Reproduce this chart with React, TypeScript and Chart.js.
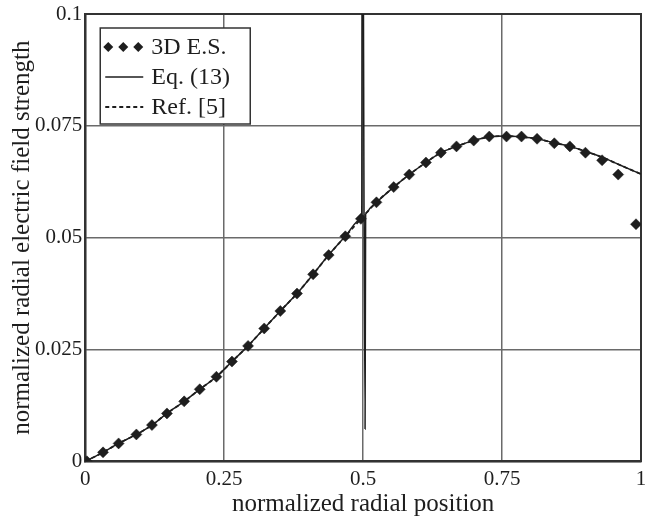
import React, { useEffect, useRef } from "react";
import { Chart, registerables } from "chart.js";

Chart.register(...registerables);

// axis ticks
const xTicks = [0, 0.25, 0.5, 0.75, 1];
const xTickLabels = ["0", "0.25", "0.5", "0.75", "1"];
const yTicks = [0, 0.025, 0.05, 0.075, 0.1];
const yTickLabels = ["0", "0.025", "0.05", "0.075", "0.1"];

// 3D E.S. (diamond markers)
const esX = [0.003, 0.032, 0.06, 0.092, 0.12, 0.147, 0.178, 0.206, 0.236, 0.264, 0.293, 0.322, 0.351, 0.381, 0.41, 0.438, 0.468, 0.496, 0.524, 0.555, 0.583, 0.613, 0.64, 0.668, 0.699, 0.727, 0.758, 0.785, 0.813, 0.844, 0.872, 0.9, 0.93, 0.959, 0.991];
const esY = [0, 0.002, 0.004, 0.006, 0.0081, 0.0107, 0.0134, 0.0161, 0.0189, 0.0223, 0.0258, 0.0297, 0.0336, 0.0375, 0.0418, 0.0461, 0.0503, 0.0542, 0.0579, 0.0613, 0.0641, 0.0668, 0.069, 0.0704, 0.0717, 0.0726, 0.0726, 0.0726, 0.0721, 0.0711, 0.0704, 0.069, 0.0673, 0.0641, 0.053];

// Eq. (13) (solid line, with singular spike at 0.5)
const eqX = [0, 0.032, 0.06, 0.092, 0.12, 0.147, 0.178, 0.206, 0.236, 0.264, 0.293, 0.322, 0.351, 0.381, 0.41, 0.438, 0.468, 0.496, 0.4975, 0.4985, 0.5035, 0.5045, 0.507, 0.512, 0.524, 0.555, 0.583, 0.613, 0.64, 0.668, 0.699, 0.727, 0.758, 0.785, 0.813, 0.844, 0.872, 0.9, 0.93, 0.959, 1.0];
const eqY = [0, 0.002, 0.004, 0.006, 0.0081, 0.0107, 0.0134, 0.0161, 0.0189, 0.0223, 0.0258, 0.0297, 0.0336, 0.0375, 0.0418, 0.0461, 0.0503, 0.0541, 0.0544, 0.16, 0.0072, 0.0552, 0.0557, 0.0565, 0.0579, 0.0613, 0.0641, 0.0668, 0.069, 0.0704, 0.0717, 0.0725, 0.0727, 0.0725, 0.0721, 0.0712, 0.0704, 0.0693, 0.068, 0.0664, 0.0642];

// Ref. [5] (dashed line)
const refX = [0, 0.032, 0.06, 0.092, 0.12, 0.147, 0.178, 0.206, 0.236, 0.264, 0.293, 0.322, 0.351, 0.381, 0.41, 0.438, 0.468, 0.496, 0.524, 0.555, 0.583, 0.613, 0.64, 0.668, 0.699, 0.727, 0.758, 0.785, 0.813, 0.844, 0.872, 0.9, 0.93, 0.959, 1.0];
const refY = [0, 0.002, 0.004, 0.006, 0.0081, 0.0107, 0.0134, 0.0161, 0.0189, 0.0223, 0.0258, 0.0297, 0.0336, 0.0375, 0.0418, 0.0461, 0.0503, 0.0542, 0.0579, 0.0613, 0.0641, 0.0668, 0.069, 0.0704, 0.0717, 0.0725, 0.0727, 0.0725, 0.0721, 0.0712, 0.0704, 0.0693, 0.068, 0.0664, 0.0642];

const seriesLabels = ["3D E.S.", "Eq. (13)", "Ref. [5]"];
const xTitle = "normalized radial position";
const yTitle = "normalized radial electric field strength";

const FONT = '"Liberation Serif", "Times New Roman", serif';
const INK = "#1e1e1e";

const zip = (xs: number[], ys: number[]) => xs.map((x, i) => ({ x, y: ys[i] }));

const framePlugin = {
  id: "frame",
  beforeDatasetsDraw(chart: any) {
    const { ctx, chartArea: a } = chart;
    ctx.save();
    ctx.strokeStyle = "#333";
    ctx.lineWidth = 2;
    ctx.strokeRect(a.left, a.top, a.right - a.left, a.bottom - a.top);
    ctx.restore();
  },
};

const legendPlugin = {
  id: "boxLegend",
  afterDatasetsDraw(chart: any) {
    const { ctx, chartArea: a } = chart;
    const x0 = a.left + 15;
    const y0 = a.top + 14;
    const w = 150;
    const h = 96;
    ctx.save();
    ctx.fillStyle = "#fff";
    ctx.fillRect(x0, y0, w, h);
    ctx.strokeStyle = "#333";
    ctx.lineWidth = 1.5;
    ctx.strokeRect(x0, y0, w, h);
    ctx.font = `24px ${FONT}`;
    ctx.textBaseline = "middle";
    ctx.textAlign = "left";
    chart.data.datasets.forEach((ds: any, i: number) => {
      const cy = y0 + 19 + i * 30;
      const sx = x0 + 5;
      const sw = 38;
      ctx.fillStyle = INK;
      ctx.strokeStyle = INK;
      if (ds.showLine === false) {
        for (let k = 0; k < 3; k++) {
          const cx = sx + 3 + k * 15;
          const r = 5;
          ctx.beginPath();
          ctx.moveTo(cx, cy - r);
          ctx.lineTo(cx + r, cy);
          ctx.lineTo(cx, cy + r);
          ctx.lineTo(cx - r, cy);
          ctx.closePath();
          ctx.fill();
        }
      } else {
        ctx.lineWidth = ds.borderWidth;
        ctx.setLineDash(ds.borderDash || []);
        ctx.beginPath();
        ctx.moveTo(sx, cy);
        ctx.lineTo(sx + sw, cy);
        ctx.stroke();
        ctx.setLineDash([]);
      }
      ctx.fillStyle = INK;
      ctx.fillText(ds.label, x0 + 51, cy + 1);
    });
    ctx.restore();
  },
};

export default function App() {
  const ref = useRef<HTMLCanvasElement | null>(null);

  useEffect(() => {
    if (!ref.current) return;
    const chart = new Chart(ref.current, {
      type: "scatter",
      data: {
        datasets: [
          {
            label: seriesLabels[0],
            data: zip(esX, esY),
            showLine: false,
            pointStyle: "rectRot",
            pointRadius: 5.5,
            pointBackgroundColor: INK,
            pointBorderColor: INK,
            pointBorderWidth: 0.5,
            order: 0,
          },
          {
            label: seriesLabels[1],
            data: zip(eqX, eqY),
            showLine: true,
            borderColor: INK,
            borderWidth: 1.5,
            pointRadius: 0,
            cubicInterpolationMode: "monotone",
            order: 1,
          },
          {
            label: seriesLabels[2],
            data: zip(refX, refY),
            showLine: true,
            borderColor: INK,
            borderWidth: 1.8,
            borderDash: [4, 3],
            pointRadius: 0,
            cubicInterpolationMode: "monotone",
            order: 2,
          },
        ],
      },
      options: {
        animation: false,
        responsive: false,
        events: [],
        layout: { autoPadding: false, padding: { top: 14, right: 7, bottom: 0, left: 12 } },
        plugins: { legend: { display: false }, tooltip: { enabled: false } },
        scales: {
          x: {
            type: "linear",
            min: 0,
            max: 1,
            afterBuildTicks: (s: any) => {
              s.ticks = xTicks.map((v) => ({ value: v }));
            },
            afterFit: (s: any) => {
              s.paddingLeft = 0;
              s.paddingRight = 0;
            },
            ticks: {
              callback: (v: any) => xTickLabels[xTicks.indexOf(Number(v))] ?? "",
              font: { family: FONT, size: 21, lineHeight: 1.2 },
              color: INK,
              padding: 6,
              maxRotation: 0,
            },
            grid: { color: "#6a6a6a", lineWidth: 1.5, drawTicks: false },
            border: { display: true, color: "#333", width: 2 },
            title: {
              display: true,
              text: xTitle,
              font: { family: FONT, size: 25, lineHeight: 0.9 },
              color: INK,
              padding: { top: -5, bottom: 4 },
            },
          },
          y: {
            type: "linear",
            min: 0,
            max: 0.1,
            afterBuildTicks: (s: any) => {
              s.ticks = yTicks.map((v) => ({ value: v }));
            },
            afterFit: (s: any) => {
              s.paddingTop = 0;
              s.paddingBottom = 0;
            },
            ticks: {
              callback: (v: any) => {
                const i = yTicks.findIndex((t) => Math.abs(t - Number(v)) < 1e-9);
                return i >= 0 ? yTickLabels[i] : "";
              },
              font: { family: FONT, size: 21, lineHeight: 1.2 },
              color: INK,
              padding: 3,
            },
            grid: { color: "#6a6a6a", lineWidth: 1.5, drawTicks: false },
            border: { display: true, color: "#333", width: 2 },
            title: {
              display: true,
              text: yTitle,
              font: { family: FONT, size: 25, lineHeight: 0.8 },
              color: INK,
              padding: { top: 0, bottom: 0 },
            },
          },
        },
      },
      plugins: [framePlugin, legendPlugin],
    });
    return () => chart.destroy();
  }, []);

  return (
    <div style={{ position: "absolute", left: 0, top: 0, width: 648, height: 520, background: "#fff" }}>
      <canvas ref={ref} width={648} height={520} style={{ width: 648, height: 520, display: "block" }} />
    </div>
  );
}
